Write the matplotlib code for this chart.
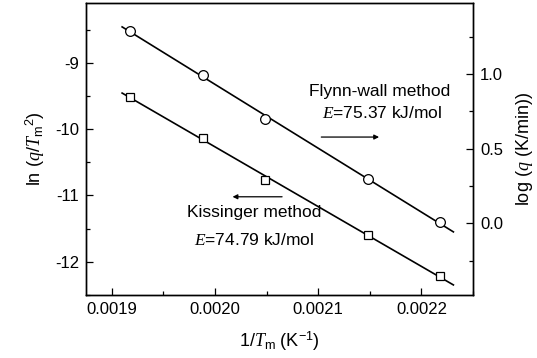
import matplotlib
matplotlib.use("Agg")
import matplotlib.pyplot as plt
import numpy as np
from matplotlib.ticker import MultipleLocator

plt.rcParams['font.family'] = ['Liberation Sans', 'DejaVu Sans']
plt.rcParams['mathtext.fontset'] = 'custom'
plt.rcParams['mathtext.rm'] = 'Liberation Sans'
plt.rcParams['mathtext.it'] = 'Liberation Serif:italic'

# 1/Tm values (K^-1)
inv_T = [0.001918, 0.001988, 0.002048, 0.002148, 0.002218]
# Kissinger: ln(q/Tm^2), left axis
ln_q_T2 = [-9.52, -10.13, -10.76, -11.59, -12.22]
# Flynn-Wall: log q, right axis
log_q = [1.29, 0.993, 0.697, 0.297, 0.009]

x_fit = np.array([0.00191, 0.002231])

fig = plt.figure(figsize=(5.37, 3.58), dpi=100)
ax = fig.add_axes([86/537, 1 - 295/358, (473 - 86)/537, (295 - 3)/358])
ax2 = ax.twinx()

# Kissinger squares
k = np.polyfit(inv_T, ln_q_T2, 1)
ax.plot(x_fit, np.polyval(k, x_fit), 'k-', lw=1.2)
ax.plot(inv_T, ln_q_T2, 's', mfc='white', mec='k', ms=6, mew=0.9)

# Flynn-Wall circles
f = np.polyfit(inv_T, log_q, 1)
ax2.plot(x_fit, np.polyval(f, x_fit), 'k-', lw=1.2)
ax2.plot(inv_T, log_q, 'o', mfc='white', mec='k', ms=7, mew=0.9)

ax.set_xlim(0.001875, 0.00225)
ax.set_ylim(-12.5, -8.1)
ax2.set_ylim(-0.48, 1.476)

ax.set_xticks([0.0019, 0.0020, 0.0021, 0.0022])
ax.set_xticklabels(['0.0019', '0.0020', '0.0021', '0.0022'])
ax.xaxis.set_minor_locator(MultipleLocator(0.00005))
ax.set_yticks([-9, -10, -11, -12])
ax.set_yticklabels(['-9', '-10', '-11', '-12'])
ax.yaxis.set_minor_locator(MultipleLocator(0.5))
ax2.set_yticks([0.0, 0.5, 1.0])
ax2.set_yticklabels(['0.0', '0.5', '1.0'])
ax2.yaxis.set_minor_locator(MultipleLocator(0.25))

for a in (ax, ax2):
    a.tick_params(which='both', direction='in', labelsize=12, width=0.9)
    a.tick_params(which='major', length=5, pad=5)
    a.tick_params(which='minor', length=3)
    for s in a.spines.values():
        s.set_linewidth(1.0)

ax.set_xlabel(r'1/$T_{\rm m}$ (K$^{-1}$)', fontsize=13, labelpad=9)
ax.set_ylabel(r'ln ($q/T_{\rm m}{}^2$)', fontsize=13, labelpad=6)
ax2.set_ylabel(r'log ($q$ (K/min))', fontsize=13, labelpad=8)

ax.text(0.00216, -9.43, 'Flynn-wall method', fontsize=12.5, ha='center', va='center')
ax.text(0.002162, -9.76, r'$E$=75.37 kJ/mol', fontsize=12.5, ha='center', va='center')
ax.annotate('', xy=(0.002159, -10.12), xytext=(0.002103, -10.12),
            arrowprops=dict(arrowstyle='-|>', lw=0.9, color='k', mutation_scale=7,
                            shrinkA=0, shrinkB=0))
ax.text(0.002038, -11.26, 'Kissinger method', fontsize=12.5, ha='center', va='center')
ax.text(0.002038, -11.67, r'$E$=74.79 kJ/mol', fontsize=12.5, ha='center', va='center')
ax.annotate('', xy=(0.002017, -11.02), xytext=(0.002065, -11.02),
            arrowprops=dict(arrowstyle='-|>', lw=0.9, color='k', mutation_scale=7,
                            shrinkA=0, shrinkB=0))

fig.savefig('out.png', dpi=100)
